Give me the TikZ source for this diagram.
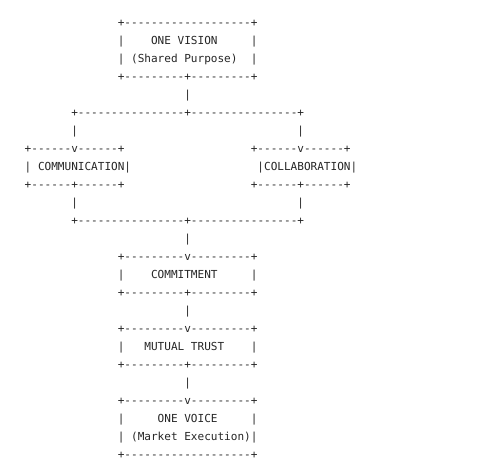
\documentclass[tikz,border=0pt]{standalone}
\usepackage{fontspec}
\setmonofont{DejaVu Sans Mono}
\definecolor{ink}{HTML}{262626}
\newcommand\asciirow[4]{\node[asciitxt] (#1) at ({24.7+#2*6.65},{26.5+(#3-1)*18}) {#4};}
\begin{document}
\begin{tikzpicture}[x=1pt,y=-1pt,
  asciitxt/.style={anchor=base west,inner sep=0pt,outer sep=0pt,text=ink,
    font=\ttfamily\fontsize{11.05}{18}\selectfont}]
\useasboundingbox[fill=white] (0,0) rectangle (480,466);
% ONE VISION box
\asciirow{visT}{14}{1}{+-------------------+}
\asciirow{visA}{14}{2}{|\ \ \ \ ONE\ VISION\ \ \ \ \ |}
\asciirow{visB}{14}{3}{|\ (Shared\ Purpose)\ \ |}
\asciirow{visU}{14}{4}{+---------+---------+}
\asciirow{c1}{24}{5}{|}
% split
\asciirow{splitT}{7}{6}{+----------------+----------------+}
\asciirow{sl}{7}{7}{|}
\asciirow{sr}{41}{7}{|}
% COMMUNICATION / COLLABORATION
\asciirow{comT}{0}{8}{+------v------+}
\asciirow{colT}{34}{8}{+------v------+}
\asciirow{com}{0}{9}{|\ COMMUNICATION|}
\asciirow{col}{35}{9}{|COLLABORATION|}
\asciirow{comU}{0}{10}{+------+------+}
\asciirow{colU}{34}{10}{+------+------+}
\asciirow{jl}{7}{11}{|}
\asciirow{jr}{41}{11}{|}
\asciirow{joinB}{7}{12}{+----------------+----------------+}
\asciirow{c2}{24}{13}{|}
% COMMITMENT
\asciirow{cmtT}{14}{14}{+---------v---------+}
\asciirow{cmt}{14}{15}{|\ \ \ \ COMMITMENT\ \ \ \ \ |}
\asciirow{cmtU}{14}{16}{+---------+---------+}
\asciirow{c3}{24}{17}{|}
% MUTUAL TRUST
\asciirow{trT}{14}{18}{+---------v---------+}
\asciirow{tr}{14}{19}{|\ \ \ MUTUAL\ TRUST\ \ \ \ |}
\asciirow{trU}{14}{20}{+---------+---------+}
\asciirow{c4}{24}{21}{|}
% ONE VOICE
\asciirow{voT}{14}{22}{+---------v---------+}
\asciirow{voA}{14}{23}{|\ \ \ \ \ ONE\ VOICE\ \ \ \ \ |}
\asciirow{voB}{14}{24}{|\ (Market\ Execution)|}
\asciirow{voU}{14}{25}{+-------------------+}
\end{tikzpicture}
\end{document}
